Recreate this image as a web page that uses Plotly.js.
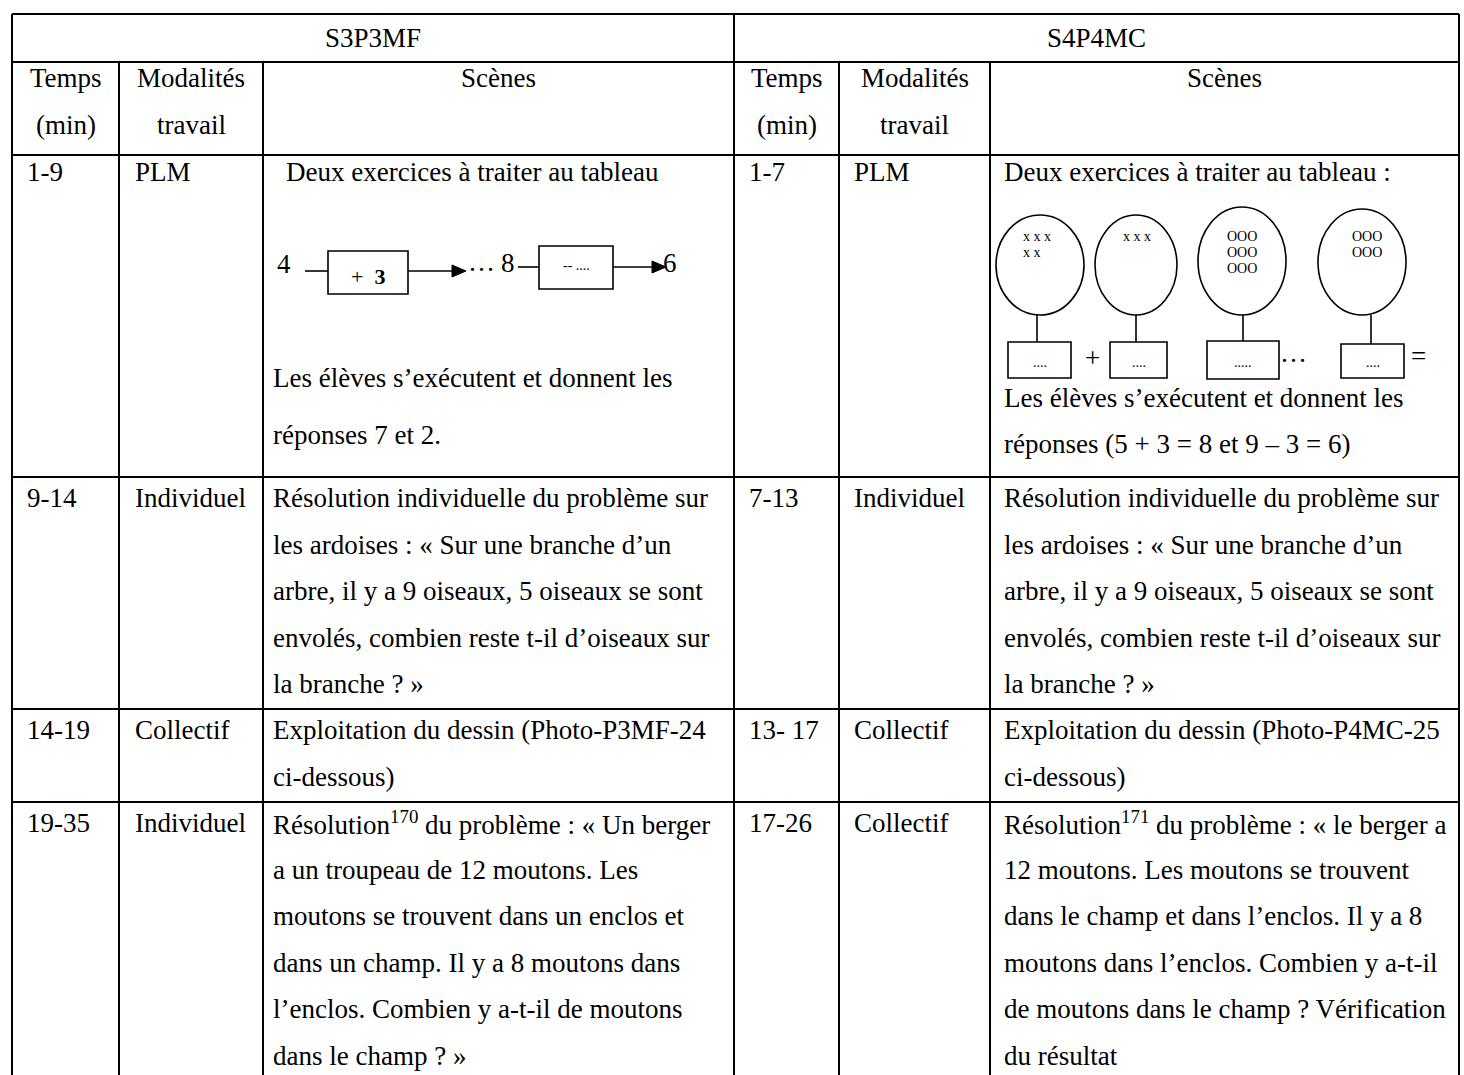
<!DOCTYPE html>
<html><head><meta charset="utf-8">
<script src="https://cdn.plot.ly/plotly-3.0.1.min.js"></script>
<style>html,body{margin:0;padding:0;background:#fff}</style>
</head><body><div id="chart" style="width:1464px;height:1075px"></div>
<script>
// ---------------- DATA ----------------
const groupTitles = ['S3P3MF', 'S4P4MC'];
const headerTemps = ['Temps', '(min)'];
const headerModal = ['Modalités', 'travail'];
const headerScenes = 'Scènes';

const timesLeft = ['1-9', '9-14', '14-19', '19-35'];
const modesLeft = ['PLM', 'Individuel', 'Collectif', 'Individuel'];
const scenesLeft = [
  ['Deux exercices à traiter au tableau', 'Les élèves s’exécutent et donnent les', 'réponses 7 et 2.'],
  ['Résolution individuelle du problème sur', 'les ardoises : « Sur une branche d’un', 'arbre, il y a 9 oiseaux, 5 oiseaux se sont', 'envolés, combien reste t-il d’oiseaux sur', 'la branche ? »'],
  ['Exploitation du dessin (Photo-P3MF-24', 'ci-dessous)'],
  ['Résolution<sup>170</sup> du problème : « Un berger', 'a un troupeau de 12 moutons. Les', 'moutons se trouvent dans un enclos et', 'dans un champ. Il y a 8 moutons dans', 'l’enclos. Combien y a-t-il de moutons', 'dans le champ ? »']
];

const timesRight = ['1-7', '7-13', '13- 17', '17-26'];
const modesRight = ['PLM', 'Individuel', 'Collectif', 'Collectif'];
const scenesRight = [
  ['Deux exercices à traiter au tableau :', 'Les élèves s’exécutent et donnent les', 'réponses (5 + 3 = 8 et 9 – 3 = 6)'],
  ['Résolution individuelle du problème sur', 'les ardoises : « Sur une branche d’un', 'arbre, il y a 9 oiseaux, 5 oiseaux se sont', 'envolés, combien reste t-il d’oiseaux sur', 'la branche ? »'],
  ['Exploitation du dessin (Photo-P4MC-25', 'ci-dessous)'],
  ['Résolution<sup>171</sup> du problème : « le berger a', '12 moutons. Les moutons se trouvent', 'dans le champ et dans l’enclos. Il y a 8', 'moutons dans l’enclos. Combien y a-t-il', 'de moutons dans le champ ? Vérification', 'du résultat']
];

// left diagram: 4 -> [+ 3] -> … 8 -> [-- ....] -> 6
const flowStart = '4';
const flowOp1 = '+  <b>3</b>';
const flowMid = '…';
const flowMidNum = '8';
const flowOp2 = '-- ....';
const flowEnd = '6';

// right diagram: sets in ellipses
const setContents = [['x x x', 'x x'], ['x x x'], ['OOO', 'OOO', 'OOO'], ['OOO', 'OOO']];
const boxLabels = ['....', '....', '.....', '....'];
const setOperators = ['+', '…', '='];

// ---------------- LAYOUT CONSTANTS ----------------
const W = 1464, H = 1075;
const FONT = 'Liberation Serif, Times New Roman, serif';
const FS = 27;
const COLX = [[12, 119, 263, 734], [734, 839, 990, 1459]];
const TXTX = [[26, 134, 272], [748, 853, 1003]];
const ROWY = [14, 62, 155, 477, 709, 802, 1075];
const LINE = 46.5, FIRST = 21;
const LW = 2;

const shapes = [];
const annotations = [];

function line(x0, y0, x1, y1, w) {
  shapes.push({type: 'line', xref: 'x', yref: 'y', x0, y0, x1, y1, line: {color: '#000', width: w || LW}});
}
function rect(x0, y0, x1, y1) {
  shapes.push({type: 'rect', xref: 'x', yref: 'y', x0, y0, x1, y1, line: {color: '#000', width: 1.6}});
}
function ellipse(cx, cy, rx, ry) {
  shapes.push({type: 'circle', xref: 'x', yref: 'y', x0: cx - rx, x1: cx + rx, y0: cy - ry, y1: cy + ry, line: {color: '#000', width: 1.6}});
}
function arrowHead(xe, y) {
  shapes.push({type: 'path', xref: 'x', yref: 'y', path: `M ${xe - 14} ${y - 6} L ${xe} ${y} L ${xe - 14} ${y + 6} Z`, fillcolor: '#000', line: {color: '#000', width: 1}});
}
function txt(text, x, y, opts) {
  opts = opts || {};
  annotations.push({
    text, x, y, xref: 'x', yref: 'y', showarrow: false,
    xanchor: opts.anchor || 'left', yanchor: 'middle',
    font: {family: FONT, size: opts.size || FS, color: '#000'},
    borderpad: 0
  });
}

// grid lines
line(COLX[0][0], ROWY[0], COLX[1][3], ROWY[0]);
for (let r = 1; r <= 5; r++) line(COLX[0][0], ROWY[r], COLX[1][3], ROWY[r]);
[COLX[0][0], COLX[0][3], COLX[1][3]].forEach(x => line(x, ROWY[0], x, ROWY[6]));
[COLX[0][1], COLX[0][2], COLX[1][1], COLX[1][2]].forEach(x => line(x, ROWY[1], x, ROWY[6]));

// headers
[0, 1].forEach(s => {
  const c = COLX[s];
  txt(groupTitles[s], (c[0] + c[3]) / 2, (ROWY[0] + ROWY[1]) / 2, {anchor: 'center'});
  txt(headerTemps[0], (c[0] + c[1]) / 2, ROWY[1] + 16, {anchor: 'center'});
  txt(headerTemps[1], (c[0] + c[1]) / 2, ROWY[1] + 63, {anchor: 'center'});
  txt(headerModal[0], (c[1] + c[2]) / 2, ROWY[1] + 16, {anchor: 'center'});
  txt(headerModal[1], (c[1] + c[2]) / 2, ROWY[1] + 63, {anchor: 'center'});
  txt(headerScenes, (c[2] + c[3]) / 2, ROWY[1] + 16, {anchor: 'center'});
});

// body
const sides = [
  {times: timesLeft, modes: modesLeft, scenes: scenesLeft},
  {times: timesRight, modes: modesRight, scenes: scenesRight}
];
sides.forEach((sd, s) => {
  for (let r = 0; r < 4; r++) {
    const top = ROWY[r + 2];
    const fy = r === 0 ? top + 17 : top + FIRST;
    txt(sd.times[r], TXTX[s][0], fy);
    txt(sd.modes[r], TXTX[s][1], fy);
    const lines = sd.scenes[r];
    if (r === 0) {
      txt(lines[0], TXTX[s][2] + (s === 0 ? 13 : 0), fy);
      const y1 = s === 0 ? 378 : 398;
      const y2 = s === 0 ? 435 : 444;
      txt(lines[1], TXTX[s][2], y1);
      txt(lines[2], TXTX[s][2], y2);
    } else {
      lines.forEach((t, i) => txt(t, TXTX[s][2], fy + i * LINE));
    }
  }
});

// left diagram
txt(flowStart, 284, 264, {anchor: 'center'});
line(305, 271, 328, 271, 1.6);
rect(328, 251, 408, 294);
txt(flowOp1, 368, 276, {anchor: 'center', size: 22});
line(408, 271, 455, 271, 1.6);
arrowHead(466, 271);
txt(flowMid, 481, 262, {anchor: 'center'});
txt(flowMidNum, 508, 263, {anchor: 'center'});
line(518, 267, 539, 267, 1.6);
rect(539, 246, 613, 289);
txt(flowOp2, 576, 265, {anchor: 'center', size: 14});
line(613, 267, 655, 267, 1.6);
arrowHead(666, 267);
txt(flowEnd, 670, 263, {anchor: 'center'});

// right diagram
const ell = [[1040, 265, 44, 50], [1136, 265, 41, 50], [1242, 261, 44, 54], [1362, 262, 44, 53]];
const stems = [1037, 1136, 1243, 1371];
const boxes = [[1008, 342, 1071, 378], [1110, 342, 1167, 378], [1207, 341, 1279, 379], [1341, 344, 1404, 378]];
const contentPos = [[1022, 'left'], [1122, 'left'], [1242, 'center'], [1367, 'center']];
ell.forEach((e, i) => {
  ellipse(e[0], e[1], e[2], e[3]);
  line(stems[i], e[1] + e[3], stems[i], boxes[i][1], 1.6);
  rect(boxes[i][0], boxes[i][1], boxes[i][2], boxes[i][3]);
  setContents[i].forEach((t, j) => txt(t, contentPos[i][0], 236 + j * 16, {anchor: contentPos[i][1], size: 14}));
  txt(boxLabels[i], (boxes[i][0] + boxes[i][2]) / 2, 362, {anchor: 'center', size: 14});
});
txt(setOperators[0], 1092, 358, {anchor: 'center'});
txt(setOperators[1], 1293, 353, {anchor: 'center'});
txt(setOperators[2], 1418, 356, {anchor: 'center'});

const data = [{x: [0, W], y: [0, H], type: 'scatter', mode: 'markers', marker: {opacity: 0}, hoverinfo: 'skip', showlegend: false}];
const layout = {
  width: W, height: H,
  margin: {l: 0, r: 0, t: 0, b: 0, pad: 0},
  paper_bgcolor: '#fff', plot_bgcolor: '#fff',
  xaxis: {range: [0, W], visible: false, fixedrange: true},
  yaxis: {range: [H, 0], visible: false, fixedrange: true},
  shapes, annotations, showlegend: false
};
Plotly.newPlot('chart', data, layout, {staticPlot: true, displayModeBar: false});
</script>
</body></html>
